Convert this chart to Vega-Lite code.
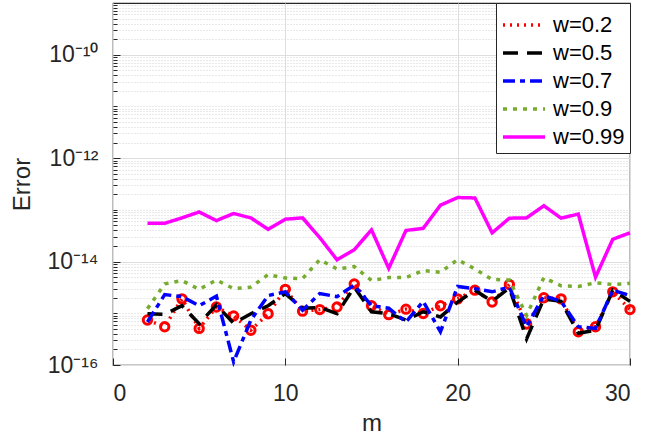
{
  "$schema": "https://vega.github.io/schema/vega-lite/v6.json",
  "width": 517,
  "height": 362,
  "autosize": {"type": "none"},
  "padding": {"left": 113, "top": 3, "right": 37, "bottom": 75},
  "background": "white",
  "config": {
    "font": "Liberation Sans",
    "view": {"stroke": "#262626", "strokeWidth": 1.2},
    "axis": {"domainColor": "#262626", "tickColor": "#262626", "labelColor": "#262626", "titleColor": "#262626", "labelFont": "Liberation Sans", "titleFont": "Liberation Sans", "titleFontWeight": "normal", "labelFontSize": 23, "titleFontSize": 24, "labelOverlap": false},
    "legend": {
      "title": null,
      "orient": "top-right",
      "offset": 0,
      "fillColor": "white",
      "strokeColor": "#262626",
      "padding": 5,
      "labelFont": "Liberation Sans",
      "labelFontSize": 22,
      "labelColor": "#000000",
      "symbolType": "M-1.4,0H1.4",
      "symbolSize": 900,
      "symbolStrokeWidth": 3.5,
      "symbolOffset": 6,
      "rowPadding": 0,
      "labelOffset": 12
    }
  },
  "data": {"values": [
    {"m":2,"s":"w=0.2","e":7.4e-16},{"m":3,"s":"w=0.2","e":5.5e-16},{"m":4,"s":"w=0.2","e":1.9e-15},{"m":5,"s":"w=0.2","e":5.1e-16},{"m":6,"s":"w=0.2","e":1.32e-15},{"m":7,"s":"w=0.2","e":8.9e-16},{"m":8,"s":"w=0.2","e":4.7e-16},{"m":9,"s":"w=0.2","e":9.8e-16},{"m":10,"s":"w=0.2","e":2.9e-15},{"m":11,"s":"w=0.2","e":1.1e-15},{"m":12,"s":"w=0.2","e":1.18e-15},{"m":13,"s":"w=0.2","e":1.32e-15},{"m":14,"s":"w=0.2","e":3.7e-15},{"m":15,"s":"w=0.2","e":1.4e-15},{"m":16,"s":"w=0.2","e":9.4e-16},{"m":17,"s":"w=0.2","e":1.2e-15},{"m":18,"s":"w=0.2","e":9.9e-16},{"m":19,"s":"w=0.2","e":1.4e-15},{"m":20,"s":"w=0.2","e":1.9e-15},{"m":21,"s":"w=0.2","e":2.8e-15},{"m":22,"s":"w=0.2","e":1.65e-15},{"m":23,"s":"w=0.2","e":3.6e-15},{"m":24,"s":"w=0.2","e":6.2e-16},{"m":25,"s":"w=0.2","e":2.0e-15},{"m":26,"s":"w=0.2","e":1.9e-15},{"m":27,"s":"w=0.2","e":4.4e-16},{"m":28,"s":"w=0.2","e":5.5e-16},{"m":29,"s":"w=0.2","e":2.6e-15},{"m":30,"s":"w=0.2","e":1.18e-15},
    {"m":2,"s":"w=0.5","e":9.8e-16},{"m":3,"s":"w=0.5","e":9.5e-16},{"m":4,"s":"w=0.5","e":1.4e-15},{"m":5,"s":"w=0.5","e":6.3e-16},{"m":6,"s":"w=0.5","e":1.45e-15},{"m":7,"s":"w=0.5","e":6.4e-16},{"m":8,"s":"w=0.5","e":9.8e-16},{"m":9,"s":"w=0.5","e":1.4e-15},{"m":10,"s":"w=0.5","e":2.4e-15},{"m":11,"s":"w=0.5","e":1.25e-15},{"m":12,"s":"w=0.5","e":1.3e-15},{"m":13,"s":"w=0.5","e":9.8e-16},{"m":14,"s":"w=0.5","e":3.2e-15},{"m":15,"s":"w=0.5","e":1.07e-15},{"m":16,"s":"w=0.5","e":9.8e-16},{"m":17,"s":"w=0.5","e":7.4e-16},{"m":18,"s":"w=0.5","e":1.07e-15},{"m":19,"s":"w=0.5","e":8.5e-16},{"m":20,"s":"w=0.5","e":1.65e-15},{"m":21,"s":"w=0.5","e":2.8e-15},{"m":22,"s":"w=0.5","e":1.7e-15},{"m":23,"s":"w=0.5","e":3.1e-15},{"m":24,"s":"w=0.5","e":3.2e-16},{"m":25,"s":"w=0.5","e":1.9e-15},{"m":26,"s":"w=0.5","e":1.7e-15},{"m":27,"s":"w=0.5","e":4.1e-16},{"m":28,"s":"w=0.5","e":4.7e-16},{"m":29,"s":"w=0.5","e":2.8e-15},{"m":30,"s":"w=0.5","e":1.7e-15},
    {"m":2,"s":"w=0.7","e":6.8e-16},{"m":3,"s":"w=0.7","e":2.3e-15},{"m":4,"s":"w=0.7","e":2.1e-15},{"m":5,"s":"w=0.7","e":1.4e-15},{"m":6,"s":"w=0.7","e":2.15e-15},{"m":7,"s":"w=0.7","e":1.15e-16},{"m":8,"s":"w=0.7","e":7.4e-16},{"m":9,"s":"w=0.7","e":2.2e-15},{"m":10,"s":"w=0.7","e":2.6e-15},{"m":11,"s":"w=0.7","e":1.15e-15},{"m":12,"s":"w=0.7","e":2.4e-15},{"m":13,"s":"w=0.7","e":2.1e-15},{"m":14,"s":"w=0.7","e":3.5e-15},{"m":15,"s":"w=0.7","e":1.4e-15},{"m":16,"s":"w=0.7","e":1.25e-15},{"m":17,"s":"w=0.7","e":6.8e-16},{"m":18,"s":"w=0.7","e":1.7e-15},{"m":19,"s":"w=0.7","e":4.4e-16},{"m":20,"s":"w=0.7","e":3.3e-15},{"m":21,"s":"w=0.7","e":3.0e-15},{"m":22,"s":"w=0.7","e":2.6e-15},{"m":23,"s":"w=0.7","e":3.2e-15},{"m":24,"s":"w=0.7","e":5.5e-16},{"m":25,"s":"w=0.7","e":2.2e-15},{"m":26,"s":"w=0.7","e":1.7e-15},{"m":27,"s":"w=0.7","e":5.5e-16},{"m":28,"s":"w=0.7","e":5.1e-16},{"m":29,"s":"w=0.7","e":2.8e-15},{"m":30,"s":"w=0.7","e":2.2e-15},
    {"m":2,"s":"w=0.9","e":1.23e-15},{"m":3,"s":"w=0.9","e":3.7e-15},{"m":4,"s":"w=0.9","e":4.3e-15},{"m":5,"s":"w=0.9","e":2.9e-15},{"m":6,"s":"w=0.9","e":4.4e-15},{"m":7,"s":"w=0.9","e":3.0e-15},{"m":8,"s":"w=0.9","e":3.2e-15},{"m":9,"s":"w=0.9","e":5.6e-15},{"m":10,"s":"w=0.9","e":4.8e-15},{"m":11,"s":"w=0.9","e":4.7e-15},{"m":12,"s":"w=0.9","e":1.09e-14},{"m":13,"s":"w=0.9","e":7.2e-15},{"m":14,"s":"w=0.9","e":8.0e-15},{"m":15,"s":"w=0.9","e":4.3e-15},{"m":16,"s":"w=0.9","e":4.9e-15},{"m":17,"s":"w=0.9","e":4.9e-15},{"m":18,"s":"w=0.9","e":6.7e-15},{"m":19,"s":"w=0.9","e":6.2e-15},{"m":20,"s":"w=0.9","e":1.09e-14},{"m":21,"s":"w=0.9","e":7.2e-15},{"m":22,"s":"w=0.9","e":4.5e-15},{"m":23,"s":"w=0.9","e":4.4e-15},{"m":24,"s":"w=0.9","e":9.1e-16},{"m":25,"s":"w=0.9","e":4.9e-15},{"m":26,"s":"w=0.9","e":3.4e-15},{"m":27,"s":"w=0.9","e":3.3e-15},{"m":28,"s":"w=0.9","e":3.9e-15},{"m":29,"s":"w=0.9","e":3.6e-15},{"m":30,"s":"w=0.9","e":3.8e-15},
    {"m":2,"s":"w=0.99","e":5.5e-14},{"m":3,"s":"w=0.99","e":5.5e-14},{"m":4,"s":"w=0.99","e":7.0e-14},{"m":5,"s":"w=0.99","e":9.1e-14},{"m":6,"s":"w=0.99","e":6.2e-14},{"m":7,"s":"w=0.99","e":8.5e-14},{"m":8,"s":"w=0.99","e":7.0e-14},{"m":9,"s":"w=0.99","e":4.2e-14},{"m":10,"s":"w=0.99","e":6.6e-14},{"m":11,"s":"w=0.99","e":7.0e-14},{"m":12,"s":"w=0.99","e":2.9e-14},{"m":13,"s":"w=0.99","e":1.08e-14},{"m":14,"s":"w=0.99","e":1.7e-14},{"m":15,"s":"w=0.99","e":4.1e-14},{"m":16,"s":"w=0.99","e":7.4e-15},{"m":17,"s":"w=0.99","e":4.0e-14},{"m":18,"s":"w=0.99","e":4.4e-14},{"m":19,"s":"w=0.99","e":1.23e-13},{"m":20,"s":"w=0.99","e":1.73e-13},{"m":21,"s":"w=0.99","e":1.7e-13},{"m":22,"s":"w=0.99","e":3.6e-14},{"m":23,"s":"w=0.99","e":6.9e-14},{"m":24,"s":"w=0.99","e":7.0e-14},{"m":25,"s":"w=0.99","e":1.2e-13},{"m":26,"s":"w=0.99","e":6.9e-14},{"m":27,"s":"w=0.99","e":8.3e-14},{"m":28,"s":"w=0.99","e":5.0e-15},{"m":29,"s":"w=0.99","e":2.7e-14},{"m":30,"s":"w=0.99","e":3.6e-14}
  ]},
  "encoding": {
    "x": {
      "field": "m", "type": "quantitative",
      "scale": {"domain": [0, 30], "nice": false},
      "axis": {"title": "m", "values": [0, 10, 20, 30], "grid": true, "gridColor": "#dedede", "gridWidth": 1, "tickSize": -7, "labelPadding": 24, "titlePadding": 6, "domain": false}
    },
    "y": {
      "field": "e", "type": "quantitative",
      "scale": {"type": "log", "domain": [1e-16, 1e-9], "nice": false},
      "axis": {
        "title": "Error",
        "values": [1e-16,2e-16,3e-16,4e-16,5e-16,6e-16,7e-16,8e-16,9e-16,1e-15,2e-15,3e-15,4e-15,5e-15,6e-15,7e-15,8e-15,9e-15,1e-14,2e-14,3e-14,4e-14,5e-14,6e-14,7e-14,8e-14,9e-14,1e-13,2e-13,3e-13,4e-13,5e-13,6e-13,7e-13,8e-13,9e-13,1e-12,2e-12,3e-12,4e-12,5e-12,6e-12,7e-12,8e-12,9e-12,1e-11,2e-11,3e-11,4e-11,5e-11,6e-11,7e-11,8e-11,9e-11,1e-10,2e-10,3e-10,4e-10,5e-10,6e-10,7e-10,8e-10,9e-10],
        "labelExpr": "datum.value == 1e-16 ? '10⁻¹⁶' : datum.value == 1e-14 ? '10⁻¹⁴' : datum.value == 1e-12 ? '10⁻¹²' : datum.value == 1e-10 ? '10⁻¹⁰' : ''",
        "grid": true,
        "gridColor": {"condition": {"test": "indexof([1e-16,1e-14,1e-12,1e-10], datum.value) >= 0", "value": "#dedede"}, "value": "#d2d2d2"},
        "gridDash": {"condition": {"test": "indexof([1e-16,1e-14,1e-12,1e-10], datum.value) >= 0", "value": []}, "value": [1, 2]},
        "tickSize": {"condition": {"test": "indexof([1e-16,1e-14,1e-12,1e-10], datum.value) >= 0", "value": -7}, "value": -4},
        "labelPadding": 22,
        "titlePadding": 12,
        "domain": false
      }
    }
  },
  "layer": [
    {
      "transform": [{"filter": "datum.s === 'w=0.2'"}],
      "mark": {"type": "point", "filled": false, "color": "#ff0000", "strokeWidth": 3, "size": 70, "opacity": 1}
    },
    {
      "mark": {"type": "line", "strokeWidth": 3.5},
      "encoding": {
        "color": {"field": "s", "type": "nominal", "scale": {"domain": ["w=0.2","w=0.5","w=0.7","w=0.9","w=0.99"], "range": ["#ff0000","#000000","#0000ff","#77ac30","#ff00ff"]}},
        "strokeDash": {"field": "s", "type": "nominal", "scale": {"domain": ["w=0.2","w=0.5","w=0.7","w=0.9","w=0.99"], "range": [[2,5],[15,9],[12,5,5,5],[4,6],[1,0]]}}
      }
    }
  ]
}
